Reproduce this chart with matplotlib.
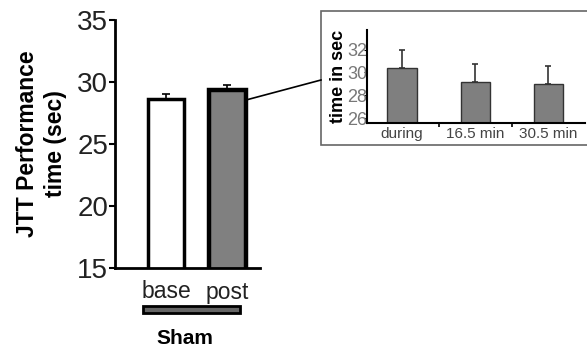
import numpy as np
import matplotlib.pyplot as plt
from matplotlib.patches import Rectangle
from matplotlib.lines import Line2D

plt.rcParams['font.family'] = ['Liberation Sans', 'DejaVu Sans']

# main chart data
groups = ['base', 'post']
means = [28.65, 29.35]
errs = [0.4, 0.4]

# inset data
inset_cats = ['during', '16.5 min', '30.5 min']
inset_means = [30.4, 29.2, 29.0]
inset_errs = [1.6, 1.5, 1.55]

fig = plt.figure(figsize=(5.87, 3.52), dpi=100)

# main axes
ax = fig.add_axes([115/587, 84/352, 145/587, 248/352])
x = np.arange(len(groups))
ax.bar(x, means, width=0.59, color=['white', '#808080'], edgecolor='black',
       linewidth=[2.5, 3.2], zorder=2)
ax.errorbar(x, means, yerr=[[0, 0], errs], fmt='none', ecolor='black',
            elinewidth=1.2, capsize=3, capthick=1.2, zorder=1)
ax.set_xlim(-0.83, 1.53)
ax.set_ylim(15, 35)
ax.set_yticks([15, 20, 25, 30, 35])
ax.set_xticks(x)
ax.set_xticklabels(groups, fontsize=16.5, color='#222222')
ax.tick_params(axis='x', length=0, pad=9)
ax.tick_params(axis='y', labelsize=20, length=4, width=1.5, pad=1,
               labelcolor='#222222')
for s in ['top', 'right']:
    ax.spines[s].set_visible(False)
ax.spines['left'].set_linewidth(2)
ax.spines['bottom'].set_linewidth(2)
ax.set_ylabel('JTT Performance\ntime (sec)', fontsize=16.5, fontweight='bold',
              labelpad=7, linespacing=1.3)

# group bar under the labels
fig.add_artist(Rectangle((143/587, 1 - 313/352), 97/587, 7/352,
                         transform=fig.transFigure, facecolor='#666666',
                         edgecolor='black', linewidth=2))
fig.text(185/587, 1 - 338/352, 'Sham', fontsize=15, fontweight='bold',
         ha='center', va='center')

# connector to inset
fig.add_artist(Line2D([246/587, 321/587], [1 - 100/352, 1 - 80/352],
                      transform=fig.transFigure, color='black', linewidth=1.2))

# inset frame
fig.add_artist(Rectangle((321/587, 1 - 145/352), 300/587, 134/352,
                         transform=fig.transFigure, facecolor='white',
                         edgecolor='#666666', linewidth=1.2, zorder=0))

# inset axes
ins = fig.add_axes([367/587, 1 - 123/352, 218/587, 93/352])
xi = np.arange(len(inset_cats))
ins.bar(xi, inset_means, width=0.4, color='#7f7f7f', edgecolor='#333333',
        linewidth=1, zorder=2)
ins.errorbar(xi, inset_means, yerr=[[0, 0, 0], inset_errs], fmt='none',
             ecolor='#333333', elinewidth=1.2, capsize=2, capthick=1.2, zorder=1)
ins.set_xlim(-0.48, 2.5)
ins.set_ylim(25.6, 33.7)
ins.set_yticks([26, 28, 30, 32])
ins.set_xticks(xi)
ins.set_xticklabels(inset_cats, fontsize=11, color='#444444')
ins.set_xticks([0.5, 1.5], minor=True)
ins.tick_params(axis='x', which='major', length=0, pad=3)
ins.tick_params(axis='x', which='minor', length=3, width=1.2)
ins.tick_params(axis='y', labelsize=13, length=2, pad=-2, labelcolor='#777777')
for s in ['top', 'right']:
    ins.spines[s].set_visible(False)
ins.spines['left'].set_linewidth(1.5)
ins.spines['bottom'].set_linewidth(1.5)
ins.set_ylabel('time in sec', fontsize=13, fontweight='bold', labelpad=0)
ins.patch.set_alpha(0)

fig.savefig('out.png', dpi=100)
